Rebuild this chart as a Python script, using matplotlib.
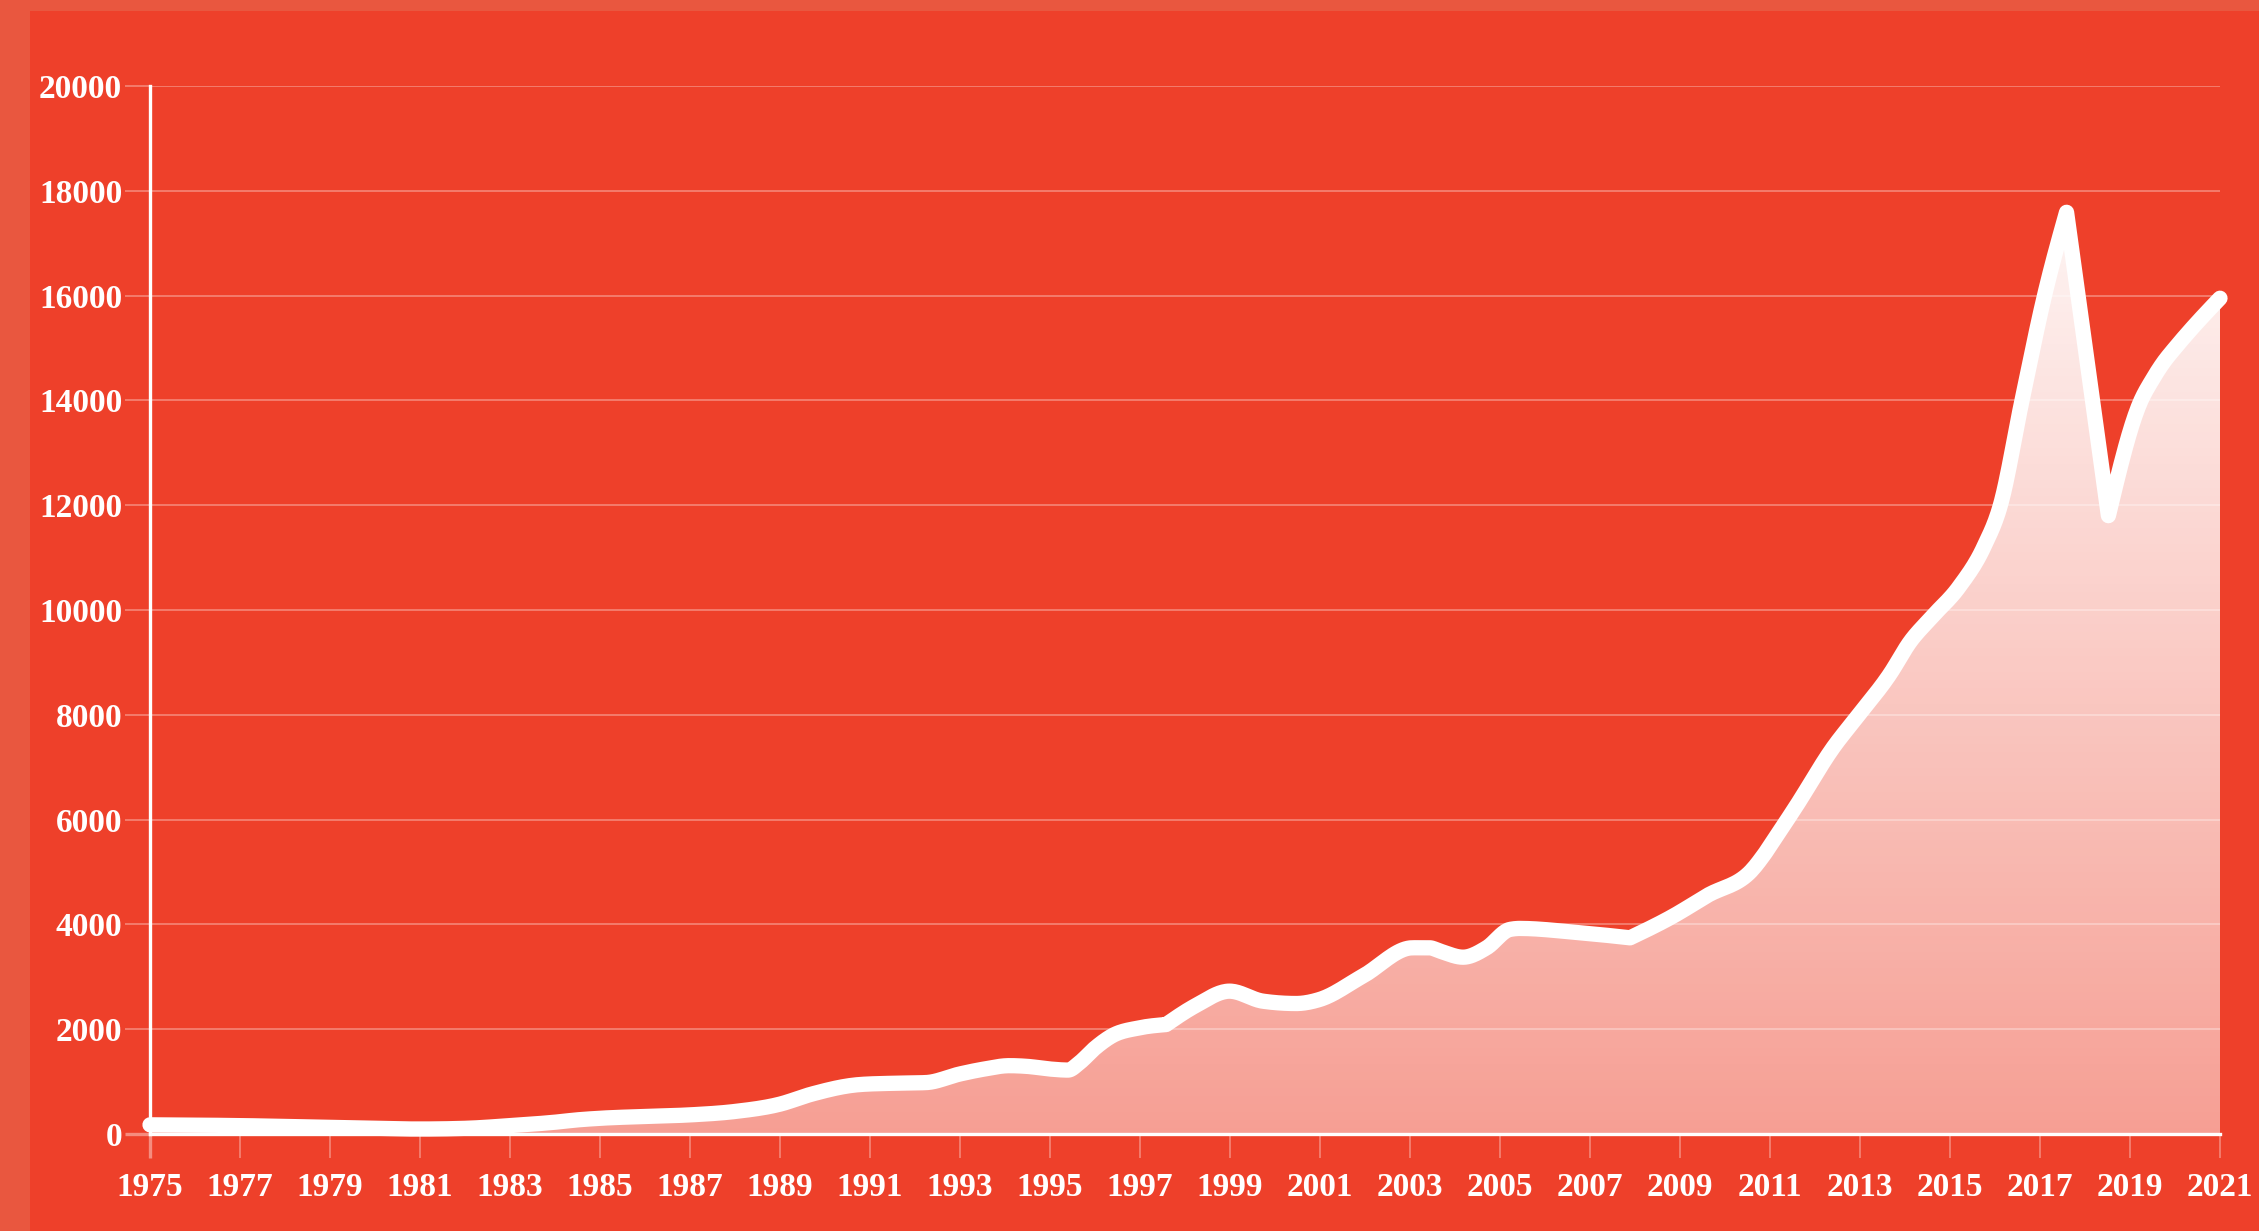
import matplotlib.pyplot as plt
import numpy as np
from matplotlib.patches import Rectangle

years = [1975, 1977, 1979, 1981, 1982, 1983, 1984, 1984.5, 1985, 1986, 1987,
         1988, 1989, 1989.7, 1990.76, 1991.5, 1992.24, 1993, 1993.5, 1994.1,
         1994.5, 1995.0, 1995.4, 1995.65, 1996.0, 1996.39, 1996.98, 1997.58,
         1998.24, 1998.99, 1999.73, 2000.47, 2000.99, 2001.95, 2003.06, 2003.43,
         2003.67, 2004.18, 2004.7, 2005.22, 2005.44, 2006.63, 2007.89, 2008.85,
         2009.59, 2010.63, 2010.9, 2011.59, 2012.41, 2012.93, 2013.67, 2014.11,
         2014.56, 2015.2, 2015.75, 2016.12, 2016.6, 2017.1, 2017.59, 2018.52,
         2019.22, 2019.5, 2019.74, 2020.0, 2020.33, 2021]
values = [175, 160, 127, 95, 108, 160, 225, 270, 300, 335, 365,
          430, 570, 760, 943, 968, 981, 1146, 1234, 1304,
          1290, 1240, 1220, 1357, 1640, 1879, 2025, 2089,
          2452, 2726, 2535, 2490, 2567, 3013, 3554, 3554,
          3489, 3374, 3553, 3904, 3923, 3853, 3744, 4160,
          4543, 5067, 5370, 6268, 7382, 7955, 8783, 9389,
          9834, 10439, 11200, 12000, 14000, 16000, 17590, 11800,
          13950, 14400, 14720, 15000, 15330, 15950]
# points where the line turns sharply
corners = [1997.58, 2007.89, 2010.9, 2017.59, 2018.52]
ytick_vals = list(range(0, 20001, 2000))
xtick_vals = list(range(1975, 2022, 2))

outer_bg = '#E9573F'
inner_bg = '#EE402A'
grid_col = '#F58C7E'


def monotone(x, y, n=20):
    x = np.asarray(x, float)
    y = np.asarray(y, float)
    if len(x) < 3:
        return x, y
    h = np.diff(x)
    s = np.diff(y) / h
    m = np.zeros_like(y)
    for i in range(1, len(x) - 1):
        p = (s[i-1]*h[i] + s[i]*h[i-1]) / (h[i-1] + h[i])
        m[i] = (np.sign(s[i-1]) + np.sign(s[i])) * min(abs(s[i-1]), abs(s[i]), 0.5*abs(p))
    m[0] = (3*s[0] - m[1]) / 2
    m[-1] = (3*s[-1] - m[-2]) / 2
    xs, ys = [], []
    for i in range(len(h)):
        t = np.linspace(0, 1, n, endpoint=False)
        xs.append(x[i] + t*h[i])
        ys.append((2*t**3 - 3*t**2 + 1)*y[i] + (t**3 - 2*t**2 + t)*h[i]*m[i]
                  + (-2*t**3 + 3*t**2)*y[i+1] + (t**3 - t**2)*h[i]*m[i+1])
    return np.concatenate(xs), np.concatenate(ys)


# smooth each stretch between corners separately
cut = [0] + [years.index(c) for c in corners] + [len(years) - 1]
sx, sy = [], []
for a, b in zip(cut[:-1], cut[1:]):
    px, py = monotone(years[a:b+1], values[a:b+1])
    sx.append(px)
    sy.append(py)
sx = np.concatenate(sx + [[years[-1]]])
sy = np.concatenate(sy + [[values[-1]]])

fig = plt.figure(figsize=(22.59, 12.31), dpi=100, facecolor=outer_bg)
fig.patches.append(Rectangle((30/2259, 0), 1, 1 - 11/1231, transform=fig.transFigure,
                             facecolor=inner_bg, edgecolor='none', zorder=-10))

ax = fig.add_axes([150/2259, 1 - 1134/1231, 2070/2259, 1048/1231])
ax.set_facecolor('none')
ax.set_xlim(1975, 2021)
ax.set_ylim(0, 20000)

# gradient fill under the line
poly = ax.fill_between(sx, 0, sy, color='none', lw=0)
top = max(values)
alpha = np.linspace(0.5, 0.95, 256)[:, None]
img = np.ones((256, 1, 4))
img[:, :, 3] = alpha
im = ax.imshow(img, extent=[1975, 2021, 0, top], origin='lower', aspect='auto',
               interpolation='bilinear', zorder=2)
im.set_clip_path(poly.get_paths()[0], transform=ax.transData)

ax.plot(sx, sy, color='white', lw=11, solid_capstyle='round',
        solid_joinstyle='round', zorder=4, clip_on=False)

for v in ytick_vals[1:]:
    ax.axhline(v, color=grid_col, lw=1.1, zorder=1)

for side in ['top', 'right']:
    ax.spines[side].set_visible(False)
for side in ['left', 'bottom']:
    ax.spines[side].set_color('white')
    ax.spines[side].set_linewidth(2.4)
    ax.spines[side].set_zorder(5)

ax.set_yticks(ytick_vals)
ax.set_yticklabels([str(v) for v in ytick_vals])
ax.set_xticks(xtick_vals)
ax.set_xticklabels([str(v) for v in xtick_vals])
ax.tick_params(axis='y', length=18, width=1.1, color=grid_col, pad=2,
               labelsize=24, labelcolor='white')
ax.tick_params(axis='x', length=17, width=1.1, color=grid_col, pad=10,
               labelsize=24, labelcolor='white')
for lab in ax.get_xticklabels() + ax.get_yticklabels():
    lab.set_family('Liberation Serif')
    lab.set_weight('bold')

t0 = ax.yaxis.get_major_ticks()[0]
t0.tick1line.set_color('white')
t0.tick1line.set_markeredgewidth(2.4)
t0 = ax.xaxis.get_major_ticks()[0]
t0.tick1line.set_color('white')
t0.tick1line.set_markeredgewidth(2.4)

fig.savefig('out.png', dpi=100, facecolor=fig.get_facecolor())
